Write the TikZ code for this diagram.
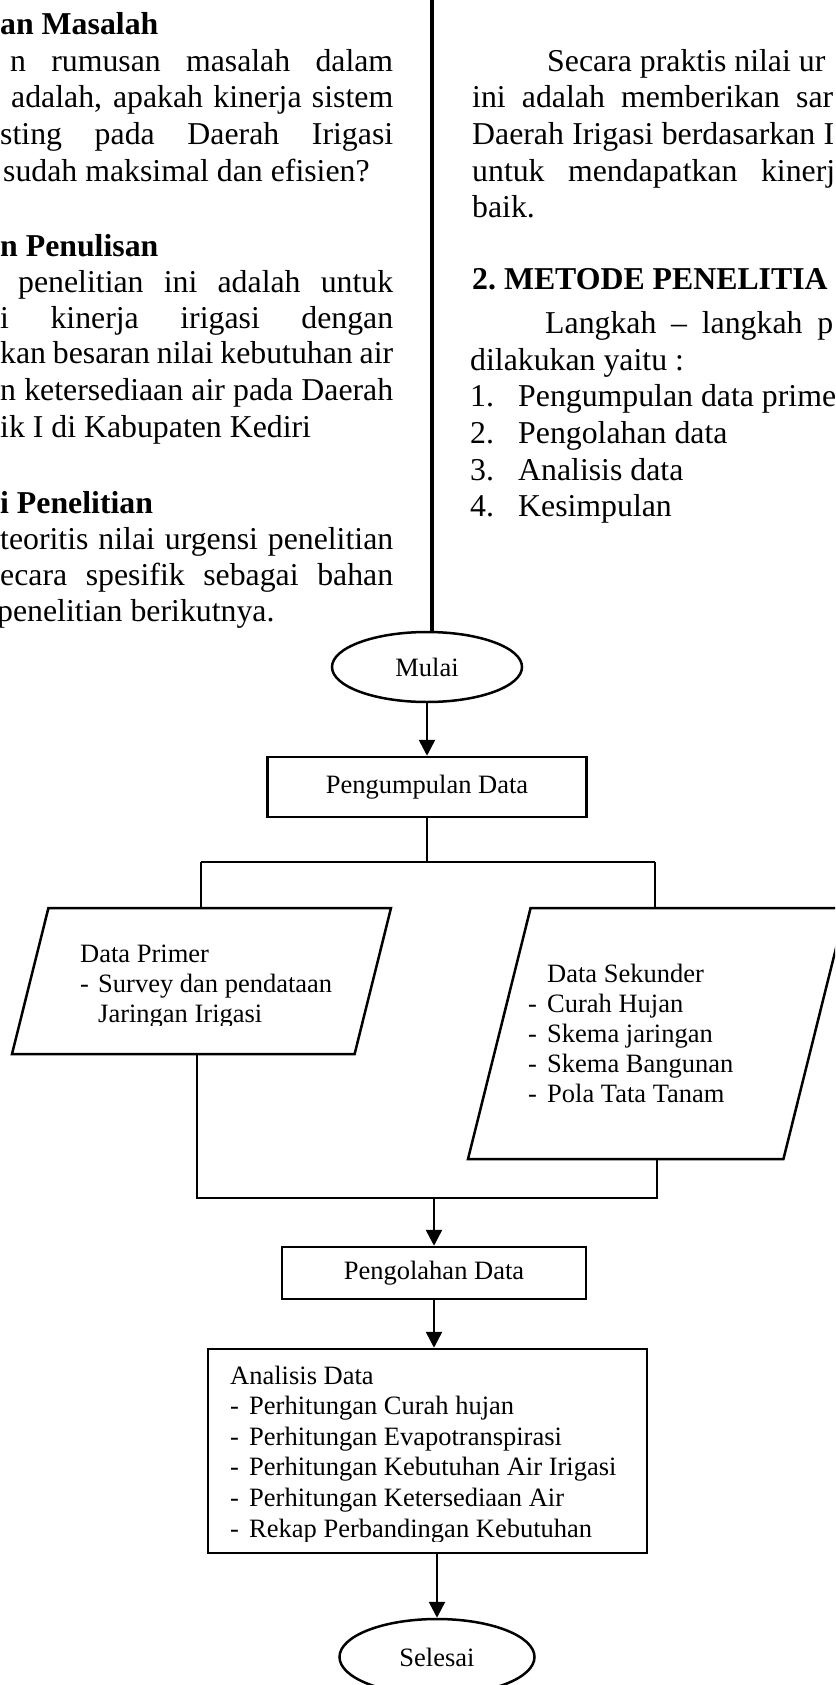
\documentclass[tikz,border=0pt]{standalone}
\usepackage{fontspec}
\setmainfont{Liberation Serif}
\usetikzlibrary{shapes.geometric,arrows.meta}
\newcommand{\bodysize}{\fontsize{31.8}{36.5}\selectfont}
\newcommand{\flowsize}{\fontsize{26.5}{30.4}\selectfont}
\tikzset{%
    body text/.style={
        anchor=base west,
        inner sep=0pt,
        font=\bodysize
    },
    head text/.style={
        body text,
        font=\bodysize\bfseries
    },
    flow text/.style={
        anchor=base west,
        inner sep=0pt,
        font=\flowsize
    },
    every terminal/.style={
        ellipse,
        draw,
        line width=2.5pt,
        inner sep=0pt,
        font=\flowsize
    },
    every process/.style={
        rectangle,
        draw,
        line width=2.5pt,
        inner sep=0pt,
        font=\flowsize
    },
    every data/.style={
        trapezium,
        trapezium left angle=76,
        trapezium right angle=104,
        trapezium stretches body,
        draw,
        line width=2.5pt,
        inner xsep=0pt
    },
    link/.style={line width=1.3pt},
    flow arrow/.style={line width=2.6pt, -{Triangle[length=16pt,width=16pt]}},
}

\begin{document}
\begin{tikzpicture}[x=1pt, y=-1pt]
        \useasboundingbox (0,0) rectangle (835,1685);
        \clip (0,0) rectangle (835,1685);

        % left column
        \foreach \y/\t [count=\i] in {35/an Masalah, 257/n Penulisan, 513/i Penelitian}
            \node [head text] (lefthead-\i) at (0,\y) {\t};

        \foreach \y/\x/\w/\t [count=\i] in {
                72/10/383/{n rumusan masalah dalam},
                108/11/382/{adalah, apakah kinerja sistem},
                145/0/393/{sting pada Daerah Irigasi},
                293/18/375/{penelitian ini adalah untuk},
                328/0/393/{i kinerja irigasi dengan},
                363/0/393/{kan besaran nilai kebutuhan air},
                400/0/393/{n ketersediaan air pada Daerah},
                549/0/393/{teoritis nilai urgensi penelitian},
                585/0/393/{ecara spesifik sebagai bahan}}
            \node [body text] (leftline-\i) at (\x,\y) {\makebox[\w pt][s]{\t}};

        \foreach \y/\x/\t [count=\i] in {182/3/{sudah maksimal dan efisien?},
                437/0/{ik I di Kabupaten Kediri}, 621/-3/{penelitian berikutnya.}}
            \node [body text] (leftlast-\i) at (\x,\y) {\t};

        % column rule
        \coordinate (rule top) at (432,0);

        % right column
        \node [body text] (right-1) at (547,72) {Secara praktis nilai ur};
        \foreach \y/\w/\t [count=\i] in {
                108/361/{ini adalah memberikan sar},
                145/362/{Daerah Irigasi berdasarkan I},
                182/363/{untuk mendapatkan kinerj}}
            \node [body text] (rightline-\i) at (472,\y) {\makebox[\w pt][s]{\t}};
        \node [body text] (right-2) at (472,218) {baik.};
        \node [head text] (righthead) at (472,290) {2.\ METODE PENELITIA};
        \node [body text] (right-3) at (545,333) {\makebox[288pt][s]{Langkah – langkah p}};
        \node [body text] (right-4) at (470,370) {dilakukan yaitu :};
        \foreach \t [count=\i] in {Pengumpulan data prime, Pengolahan data, Analisis data, Kesimpulan}
        {
            \node [body text] (step num-\i) at (470,370+\i*36.7) {\i.};
            \node [body text] (step-\i) at (518,370+\i*36.7) {\t};
        }

        % flowchart
        \node [every terminal, minimum width=190pt, minimum height=70pt] (mulai) at (427,667) {Mulai};
        \node [every process, minimum width=319pt, minimum height=60pt] (pengumpulan) at (427,787) {Pengumpulan Data};
        \node [every data, minimum width=379pt, inner ysep=73pt] (primer) at (201.5,981) {};
        \node [every data, minimum width=378pt, inner ysep=125.5pt] (sekunder) at (657,1033.5) {};
        \node [every process, minimum width=304pt, minimum height=52pt] (pengolahan) at (434,1273) {Pengolahan Data};
        \node [every process, minimum width=439pt, minimum height=204pt] (analisis) at (427.5,1451) {};
        \node [every terminal, minimum width=195pt, minimum height=76pt] (selesai) at (437,1657) {Selesai};

        \draw [line width=3.2pt] (rule top) -- (rule top |- mulai.north);

        \begin{scope}
            \clip (0,0) rectangle (835,1025);
            \node [flow text] (primer head) at (80,962) {Data Primer};
            \node [flow text] (primer dash) at (80,992) {-};
            \node [flow text] (primer item-1) at (98,992) {Survey dan pendataan};
            \node [flow text] (primer item-2) at (98,1022) {Jaringan Irigasi};
        \end{scope}

        \node [flow text] (sekunder head) at (547,982) {Data Sekunder};
        \foreach \t [count=\i] in {Curah Hujan, Skema jaringan, Skema Bangunan, Pola Tata Tanam}
        {
            \node [flow text] (sekunder dash-\i) at (528,982+\i*30) {-};
            \node [flow text] (sekunder item-\i) at (547,982+\i*30) {\t};
        }

        \begin{scope}
            \clip (0,0) rectangle (835,1541);
            \node [flow text] (analisis head) at (230,1384) {Analisis Data};
            \foreach \t [count=\i] in {Perhitungan Curah hujan, Perhitungan Evapotranspirasi,
                    Perhitungan Kebutuhan Air Irigasi, Perhitungan Ketersediaan Air,
                    Rekap Perbandingan Kebutuhan}
            {
                \node [flow text] (analisis dash-\i) at (230,1384+\i*30.6) {-};
                \node [flow text] (analisis item-\i) at (249,1384+\i*30.6) {\t};
            }
        \end{scope}

        \coordinate (split) at (427,862);
        \coordinate (split L) at (201,862);
        \coordinate (split R) at (655,862);
        \coordinate (join L) at (197,1198);
        \coordinate (join R) at (657,1198);

        \draw [link] (pengumpulan) -- (split);
        \draw [link] (split L) -- (split R);
        \draw [link] (split L) -- (split L |- primer.north);
        \draw [link] (split R) -- (split R |- sekunder.north);
        \draw [link] (join L |- primer.south) -- (join L) -- (join R) -- (join R |- sekunder.south);

        \draw [flow arrow] (mulai) -- (pengumpulan);
        \draw [flow arrow] (pengolahan.north |- join L) -- (pengolahan.north);
        \draw [flow arrow] (pengolahan.south) -- (pengolahan.south |- analisis.north);
        \draw [flow arrow] (selesai.north |- analisis.south) -- (selesai.north);

\end{tikzpicture}
\end{document}
